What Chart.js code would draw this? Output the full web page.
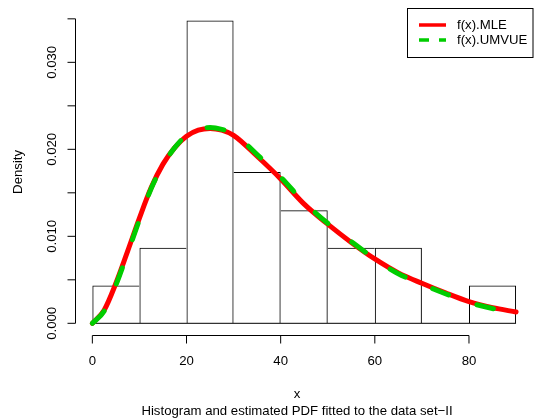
<!DOCTYPE html>
<html>
<head>
<meta charset="utf-8">
<script src="https://cdn.jsdelivr.net/npm/chart.js@4"></script>
<style>
  html, body { margin: 0; padding: 0; background: #fff; }
  #wrap { width: 541px; height: 420px; }
</style>
</head>
<body>
<div id="wrap"><canvas id="c" width="541" height="420"></canvas></div>
<script>
// histogram of data set II on the density scale, bins of width 10
const breaks = [0, 10, 20, 30, 40, 50, 60, 70, 80, 90];
const density = [0.00435, 0.0087, 0.0348, 0.0174, 0.0130, 0.0087, 0.0087, 0, 0.00435];

// fitted pdf curves at these x values
const xs = [0, 2.5, 5, 7.5, 10, 12.5, 15, 17.5, 20, 22.5, 25, 27.5, 30, 35, 40, 45, 50, 55, 60, 65, 70, 75, 80, 85, 90];
const fMLE = [0, 0.0015, 0.0046, 0.0083, 0.0121, 0.0156, 0.0183, 0.0202, 0.0215, 0.0222, 0.0224, 0.0222, 0.0216, 0.0192, 0.0166, 0.0137, 0.0114, 0.0093, 0.0074, 0.0058, 0.0046, 0.0035, 0.0025, 0.0018, 0.0013];
const fUMVUE = [0, 0.0014, 0.0044, 0.0081, 0.0119, 0.0155, 0.0182, 0.0202, 0.0216, 0.0223, 0.0225, 0.0223, 0.0218, 0.0194, 0.0168, 0.0139, 0.0115, 0.0094, 0.0074, 0.0057, 0.0045, 0.0034, 0.0024, 0.0017, 0.0012];

// axis ticks (R style: y ticks every 0.005, labels every 0.010)
const xTicks = [0, 20, 40, 60, 80];
const yTicks = [0, 0.005, 0.010, 0.015, 0.020, 0.025, 0.030, 0.035];
const yLabelled = [0, 0.010, 0.020, 0.030];

const FONT = '13.2px "Liberation Sans", Arial, sans-serif';
const RED = '#ff0000', GREEN = '#00cd00';

const mids = density.map((d, i) => (breaks[i] + breaks[i + 1]) / 2);

// R-like axes, titles and legend
const rAxes = {
  id: 'rAxes',
  afterDraw(chart) {
    const { ctx, chartArea: a, scales: { x, y } } = chart;
    ctx.save();
    ctx.strokeStyle = '#000'; ctx.fillStyle = '#000'; ctx.lineWidth = 1;
    ctx.font = FONT;

    // x axis
    const yb = Math.round(a.bottom) + 0.5;
    ctx.beginPath();
    ctx.moveTo(x.getPixelForValue(xTicks[0]), yb);
    ctx.lineTo(x.getPixelForValue(xTicks[xTicks.length - 1]), yb);
    xTicks.forEach(t => {
      const px = x.getPixelForValue(t);
      ctx.moveTo(px, yb); ctx.lineTo(px, yb + 8);
    });
    ctx.stroke();
    ctx.textAlign = 'center'; ctx.textBaseline = 'middle';
    xTicks.forEach(t => ctx.fillText(String(t), x.getPixelForValue(t), 361));

    // y axis
    const xl = Math.round(a.left) + 0.5;
    ctx.beginPath();
    ctx.moveTo(xl, y.getPixelForValue(yTicks[0]));
    ctx.lineTo(xl, y.getPixelForValue(yTicks[yTicks.length - 1]));
    yTicks.forEach(t => {
      const py = y.getPixelForValue(t);
      ctx.moveTo(xl, py); ctx.lineTo(xl - 8, py);
    });
    ctx.stroke();
    yLabelled.forEach(t => {
      ctx.save();
      ctx.translate(52, y.getPixelForValue(t));
      ctx.rotate(-Math.PI / 2);
      ctx.fillText(t.toFixed(3), 0, 0);
      ctx.restore();
    });

    // titles
    ctx.fillText('x', 297, 394);
    ctx.fillText('Histogram and estimated PDF fitted to the data set\u2212II', 297, 411);
    ctx.save();
    ctx.translate(18, (a.top + a.bottom) / 2);
    ctx.rotate(-Math.PI / 2);
    ctx.fillText('Density', 0, 0);
    ctx.restore();

    // legend
    ctx.strokeRect(407.5, 8.5, 125.5, 49);
    ctx.lineWidth = 3.5; ctx.lineCap = 'butt';
    ctx.strokeStyle = RED;
    ctx.beginPath(); ctx.moveTo(419, 25); ctx.lineTo(446, 25); ctx.stroke();
    ctx.strokeStyle = GREEN; ctx.setLineDash([10, 10]);
    ctx.beginPath(); ctx.moveTo(419, 40); ctx.lineTo(446, 40); ctx.stroke();
    ctx.setLineDash([]);
    ctx.textAlign = 'left';
    ctx.fillText('f(x).MLE', 457, 25);
    ctx.fillText('f(x).UMVUE', 457, 40);
    ctx.restore();
  }
};

new Chart(document.getElementById('c'), {
  type: 'bar',
  data: {
    datasets: [
      {
        type: 'line', label: 'f(x).UMVUE', order: 0,
        data: xs.map((v, i) => ({ x: v, y: fUMVUE[i] })),
        borderColor: GREEN, borderWidth: 5, borderDash: [17, 30], borderCapStyle: 'round',
        pointRadius: 0, fill: false, cubicInterpolationMode: 'monotone'
      },
      {
        type: 'line', label: 'f(x).MLE', order: 1,
        data: xs.map((v, i) => ({ x: v, y: fMLE[i] })),
        borderColor: RED, borderWidth: 5, borderCapStyle: 'round',
        pointRadius: 0, fill: false, cubicInterpolationMode: 'monotone'
      },
      {
        type: 'line', label: 'base', order: 2,
        data: [breaks[0], breaks[breaks.length - 1]].map(b => ({ x: b, y: 0 })),
        borderColor: '#000', borderWidth: 1, pointRadius: 0, fill: false
      },
      {
        type: 'bar', label: 'hist', order: 3,
        data: mids.map((m, i) => ({ x: m, y: density[i] })),
        backgroundColor: 'rgba(255,255,255,0)', borderColor: '#000',
        borderSkipped: false, inflateAmount: 0,
        barPercentage: 1, categoryPercentage: 1,
        borderWidth: c => {
          const i = c.dataIndex, h = density[i];
          const prev = i > 0 ? density[i - 1] : 0;
          const next = i < density.length - 1 ? density[i + 1] : 0;
          return { top: 1, bottom: 0, left: h >= prev ? 1 : 0, right: h > next ? 1 : 0 };
        }
      }
    ]
  },
  options: {
    responsive: false,
    animation: false,
    events: [],
    layout: { padding: { left: 75.4, right: 8, top: 8.4, bottom: 84.6 } },
    scales: {
      x: { type: 'linear', min: -3.6, max: 93.6, offset: false, display: false },
      y: { type: 'linear', min: -0.00139, max: 0.0362, display: false }
    },
    plugins: { legend: { display: false }, tooltip: { enabled: false } }
  },
  plugins: [rAxes]
});
</script>
</body>
</html>
